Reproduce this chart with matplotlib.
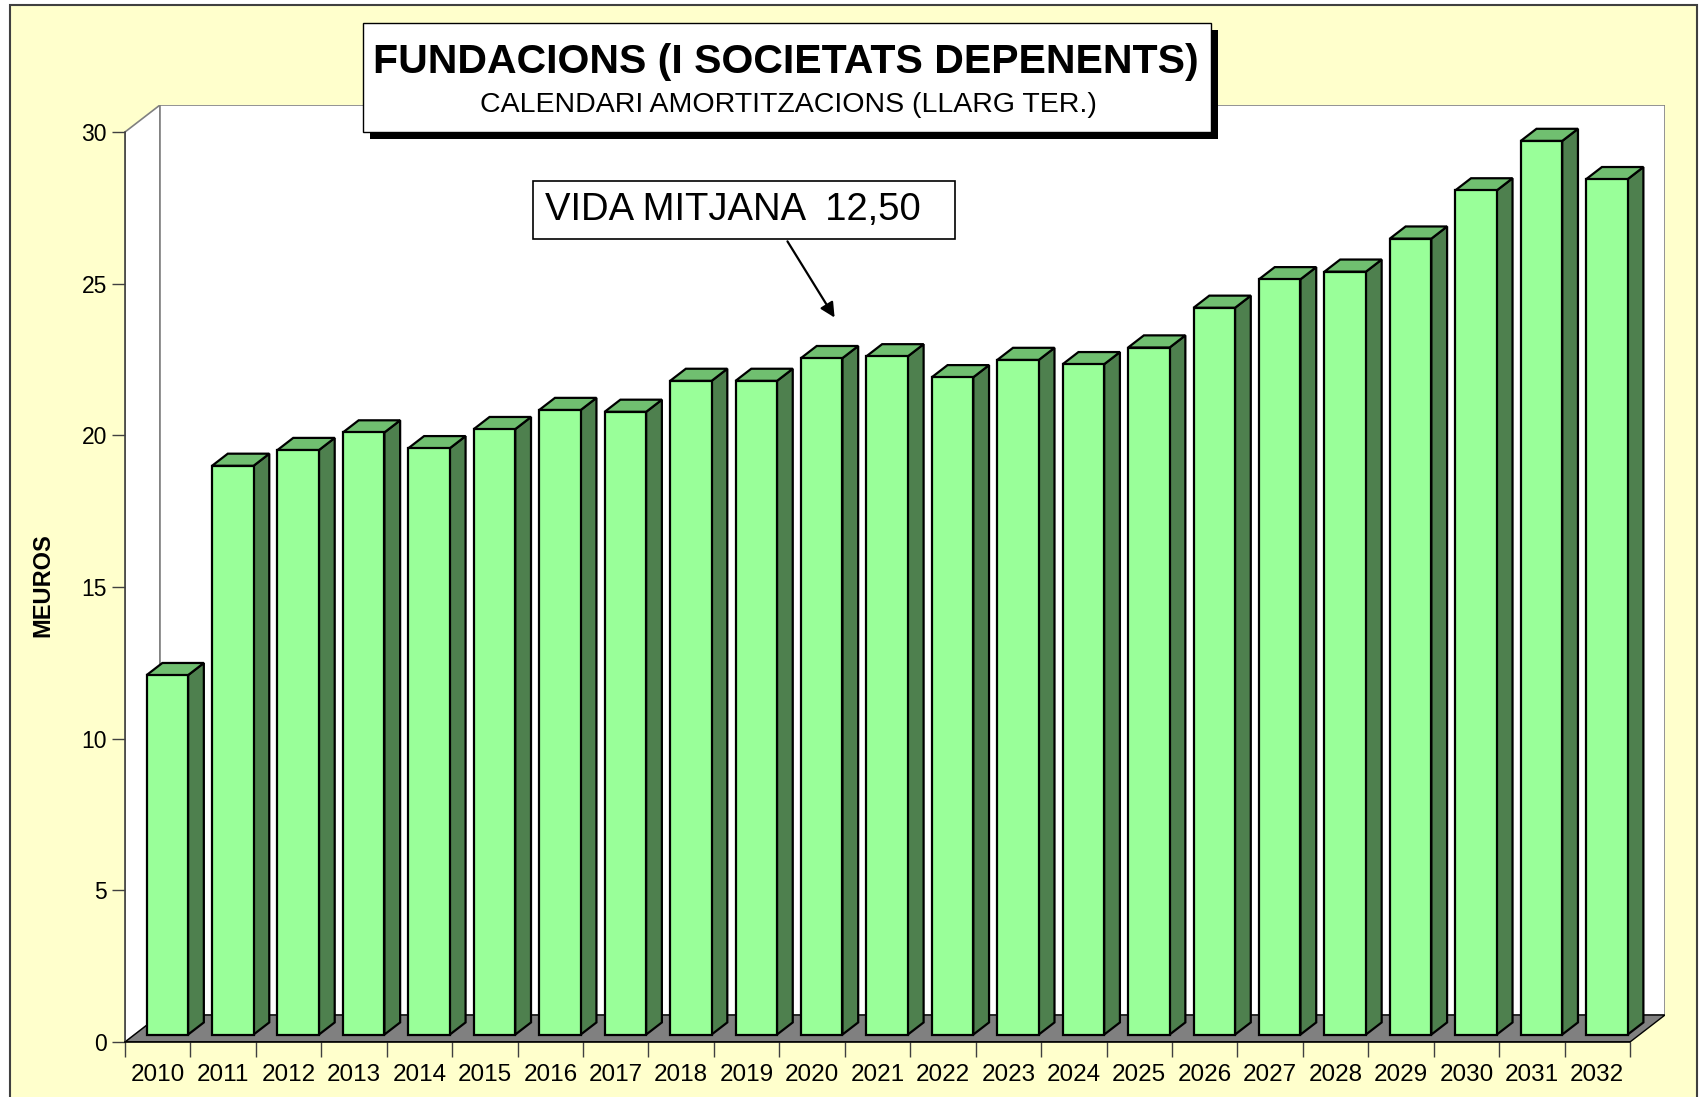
import matplotlib
matplotlib.use("Agg")
import matplotlib.pyplot as plt
from matplotlib.patches import Polygon, Rectangle
import numpy as np

plt.rcParams['font.family'] = ['Liberation Sans', 'DejaVu Sans']

# data
years = [str(y) for y in range(2010, 2033)]
values = [11.85, 18.75, 19.27, 19.85, 19.33, 19.96, 20.59, 20.53, 21.55, 21.55,
          22.30, 22.36, 21.67, 22.24, 22.10, 22.65, 23.96, 24.90, 25.15, 26.24,
          27.83, 29.46, 28.20]
y_ticks = [0, 5, 10, 15, 20, 25, 30]

title = "FUNDACIONS (I SOCIETATS DEPENENTS)"
subtitle = "CALENDARI AMORTITZACIONS (LLARG TER.)"
note = "VIDA MITJANA  12,50"
ylabel = "MEUROS"

W, H = 1704, 1097
fig = plt.figure(figsize=(W / 100, H / 100), dpi=100)
fig.patch.set_facecolor('white')

def fx(px):
    return px / W

def fy(py):
    return 1 - py / H

# yellow chart area with frame
fig.add_artist(Rectangle((fx(10), fy(1110)), fx(1697) - fx(10), fy(5) - fy(1110),
                         transform=fig.transFigure, facecolor='#FFFFCC',
                         edgecolor='#404040', lw=1.5, zorder=-5))

# 3D depth offsets in data units (category, value)
DX = 0.535
DY = 0.89
s0, s1 = 0.275, 0.725   # bar depth position (front / back)
bw = 0.634              # bar width

n = len(values)
x = np.arange(n)

ax = fig.add_axes([fx(125), 55 / H, (1665 - 125) / W, (992 - 55) / H])
ax.patch.set_visible(False)
ax.set_xlim(-0.5, n - 0.5 + DX)
ax.set_ylim(0, 30 + DY)

# walls and floor
left = -0.5
right = n - 0.5
ax.add_patch(Polygon([(left, 0), (left + DX, DY), (left + DX, 30 + DY), (left, 30)],
                     closed=True, facecolor='white', edgecolor='#808080', lw=1.2, zorder=0.5))
ax.add_patch(Rectangle((left + DX, DY), right - left, 30, facecolor='white',
                       edgecolor='#808080', lw=1.2, zorder=0.5))
ax.add_patch(Polygon([(left, 0), (right, 0), (right + DX, DY), (left + DX, DY)],
                     closed=True, facecolor='#808080', edgecolor='black', lw=1.0, zorder=0.8))

front_c = '#99FF99'
side_c = '#4E804E'
top_c = '#70BF70'

ax.bar(x + s0 * DX, values, width=bw, bottom=s0 * DY, color=front_c,
       edgecolor='black', lw=1.6, zorder=3)
for xi, v in zip(x, values):
    xr = xi + bw / 2
    xl = xi - bw / 2
    side = [(xr + s0 * DX, s0 * DY), (xr + s1 * DX, s1 * DY),
            (xr + s1 * DX, v + s1 * DY), (xr + s0 * DX, v + s0 * DY)]
    top = [(xl + s0 * DX, v + s0 * DY), (xr + s0 * DX, v + s0 * DY),
           (xr + s1 * DX, v + s1 * DY), (xl + s1 * DX, v + s1 * DY)]
    ax.add_patch(Polygon(side, closed=True, facecolor=side_c, edgecolor='black', lw=1.6, zorder=2.9))
    ax.add_patch(Polygon(top, closed=True, facecolor=top_c, edgecolor='black', lw=1.6, zorder=2.9))

# axes, ticks
for s in ['top', 'right']:
    ax.spines[s].set_visible(False)
ax.spines['left'].set_position(('data', left))
ax.spines['left'].set_bounds(0, 30)
ax.spines['bottom'].set_bounds(left, right)
ax.spines['left'].set_color('#404040')
ax.spines['bottom'].set_color('black')
ax.spines['left'].set_linewidth(1.2)
ax.spines['bottom'].set_linewidth(1.2)

ax.set_yticks(y_ticks)
ax.set_yticklabels([str(t) for t in y_ticks])
ax.tick_params(axis='y', length=9.6, width=1, color='#404040', pad=3.5, labelsize=16.5)

ax.set_xticks(np.arange(n + 1) - 0.5)
ax.set_xticklabels([''] * (n + 1))
ax.set_xticks(x, minor=True)
ax.set_xticklabels(years, minor=True)
ax.tick_params(axis='x', which='major', length=10.6, width=1, color='#404040')
ax.tick_params(axis='x', which='minor', length=0, pad=16, labelsize=17.5)

# y label
fig.text(fx(43), fy(585), ylabel, rotation=90, ha='center', va='center',
         fontsize=17, fontweight='bold')

# title box with shadow
fig.add_artist(Rectangle((fx(370), fy(139)), fx(1218) - fx(370), fy(30) - fy(139),
                         transform=fig.transFigure, facecolor='black', lw=0, zorder=4))
fig.add_artist(Rectangle((fx(363), fy(132)), fx(1211) - fx(363), fy(23) - fy(132),
                         transform=fig.transFigure, facecolor='white', edgecolor='black',
                         lw=1.0, zorder=4.1))
fig.text(fx(786), fy(62), title, ha='center', va='center', fontsize=29.5,
         fontweight='bold', zorder=5)
fig.text(fx(788), fy(105), subtitle, ha='center', va='center', fontsize=20.5, zorder=5)

# note box and arrow
fig.add_artist(Rectangle((fx(533), fy(239)), fx(955) - fx(533), fy(181) - fy(239),
                         transform=fig.transFigure, facecolor='white', edgecolor='black',
                         lw=1.2, zorder=4))
fig.text(fx(545), fy(210), note, ha='left', va='center', fontsize=27.5, zorder=5)
ax.annotate('', xy=(-0.5 + (836 - 125) / 65.43, (1042 - 320) / 30.33), xycoords='data',
            xytext=(fx(786), fy(239)), textcoords='figure fraction',
            arrowprops=dict(arrowstyle='-|>', color='black', lw=1.6, mutation_scale=22),
            zorder=5)

fig.savefig('out.png', dpi=100)
